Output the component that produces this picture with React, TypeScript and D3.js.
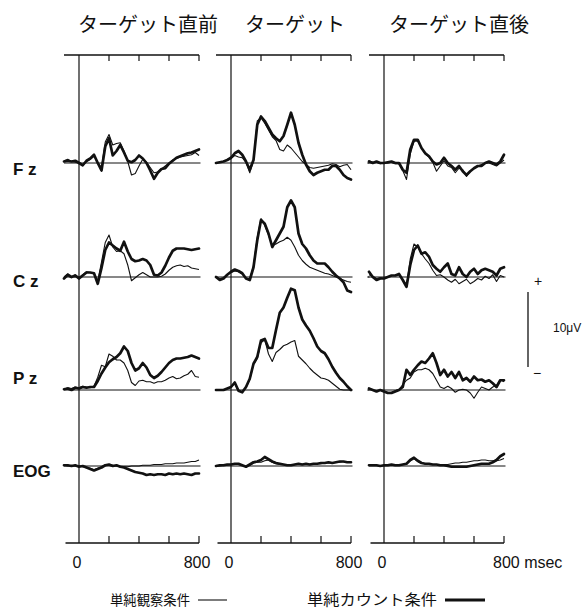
import React from 'react';
import * as d3 from 'd3';

// sampling grid, msec
const times = d3.range(-100, 825, 25);
const xTicks = [0, 200, 400, 600, 800];
const columnTitles = ['ターゲット直前', 'ターゲット', 'ターゲット直後'];
const channels = ['F z', 'C z', 'P z', 'EOG'];
const legendLabels = ['単純観察条件', '単純カウント条件'];

// values in μV, thin = 単純観察条件, thick = 単純カウント条件
// ターゲット直前
const fzPreThin = [0.3, 0.5, 0.2, 0.1, 0.1, -0.3, 0.2, 0.5, 0.9, 0.1, -0.6, 2.8, 3.8, 2.4, 2.6, 2.7, 1.6, 0.2, -1.6, -1.4, -0.4, 0.5, 0.1, -0.6, -1.3, -1.2, -0.8, -0.4, 0.0, 0.4, 0.6, 0.8, 0.9, 1.0, 1.1, 1.4, 1.0];
const fzPreThick = [0.2, 0.3, 0.2, 0.3, 0.0, -0.3, 0.3, 0.6, 1.1, 0.0, -1.0, 2.2, 3.3, 1.0, 1.6, 2.4, 1.4, 0.3, 0.1, 0.4, 1.0, 0.6, 0.0, -1.0, -2.1, -1.3, -0.8, -0.7, -0.1, 0.3, 0.7, 0.9, 1.1, 1.3, 1.4, 1.6, 1.8];
const czPreThin = [0.0, 0.4, -0.1, 0.3, -0.1, 0.3, 0.7, 0.6, 0.4, -0.5, 2.0, 4.6, 5.6, 4.0, 3.4, 3.5, 3.1, 1.6, -0.5, -0.1, 0.3, 0.6, 0.3, 0.0, 0.0, 0.0, 0.1, 0.4, 0.9, 1.3, 1.5, 1.6, 1.4, 1.5, 1.2, 1.1, 1.0];
const czPreThick = [-0.2, 0.3, 0.0, 0.2, -0.2, 0.2, 0.6, 0.6, 0.5, -0.9, 1.2, 3.6, 4.6, 4.2, 3.8, 3.5, 4.7, 3.4, 2.4, 2.1, 2.2, 2.4, 2.2, 1.6, 0.3, 0.2, 0.6, 1.5, 2.6, 3.5, 3.8, 3.8, 3.8, 3.7, 3.6, 3.7, 3.8];
const pzPreThin = [0.1, 0.3, 0.2, 0.4, 0.3, 0.5, 0.4, 0.3, 0.5, 1.7, 3.3, 3.1, 4.8, 4.5, 4.0, 4.0, 3.6, 2.6, 1.0, 0.6, 1.2, 1.3, 1.1, 1.1, 0.9, 1.1, 1.1, 1.3, 1.6, 1.8, 1.5, 1.6, 1.9, 2.1, 2.6, 1.8, 1.7];
const pzPreThick = [0.1, 0.2, 0.0, 0.3, 0.2, 0.4, 0.3, 0.4, 0.4, 1.2, 2.2, 3.0, 3.7, 4.1, 4.4, 4.9, 5.8, 5.2, 3.6, 2.6, 2.9, 3.6, 3.0, 2.0, 1.6, 1.9, 2.4, 3.0, 3.6, 4.0, 4.2, 4.2, 4.3, 4.4, 4.6, 4.4, 4.2];
const eogPreThin = [0.1, 0.0, 0.1, 0.0, 0.0, -0.1, -0.2, -0.3, -0.5, -0.3, -0.1, 0.1, 0.2, 0.1, 0.0, -0.1, -0.1, -0.1, 0.0, 0.0, 0.0, 0.1, 0.1, 0.1, 0.2, 0.2, 0.2, 0.3, 0.3, 0.3, 0.4, 0.4, 0.4, 0.5, 0.6, 0.6, 0.8];
const eogPreThick = [0.1, 0.1, 0.0, 0.1, -0.1, 0.0, -0.2, -0.4, -0.6, -0.4, -0.2, 0.1, 0.2, 0.0, 0.1, -0.1, -0.2, -0.4, -0.6, -0.8, -0.9, -1.0, -1.2, -1.1, -1.2, -1.1, -1.1, -1.2, -1.0, -1.1, -1.0, -1.1, -1.0, -1.1, -1.2, -1.0, -1.0];

// ターゲット
const fzTgtThin = [0.0, 0.1, 0.2, 0.4, 0.6, 1.0, 0.8, 0.7, 0.1, -1.3, 0.3, 5.6, 6.0, 5.3, 4.4, 3.5, 3.0, 1.8, 1.6, 2.4, 2.0, 1.4, 0.8, 0.2, -0.2, -0.6, -0.7, -0.6, -0.5, -0.4, -0.3, -0.1, -0.2, -0.5, -0.3, -0.2, -0.9];
const fzTgtThick = [0.0, 0.1, 0.2, 0.4, 0.7, 1.3, 1.6, 1.1, 0.2, -0.9, 0.4, 5.1, 6.2, 5.6, 4.7, 3.8, 3.3, 2.9, 3.6, 5.1, 6.7, 5.1, 2.7, 1.1, -0.2, -1.1, -1.6, -1.3, -1.1, -0.9, -0.9, -0.4, -0.4, -0.9, -1.6, -2.0, -2.2];
const czTgtThin = [0.0, -0.2, -0.1, 0.3, 0.6, 0.8, 0.7, 0.4, -0.2, -0.3, 1.5, 5.3, 7.8, 6.9, 5.6, 4.2, 4.4, 4.7, 4.9, 5.3, 4.9, 4.0, 2.9, 2.2, 1.7, 1.3, 1.1, 0.9, 0.7, 0.5, 0.4, 0.2, 0.0, -0.2, -0.4, -0.6, -0.7];
const czTgtThick = [0.0, -0.4, -0.2, 0.3, 0.7, 1.0, 0.8, 0.5, -0.2, -0.4, 1.3, 4.9, 7.6, 7.1, 5.8, 4.0, 4.9, 5.8, 6.7, 9.3, 10.2, 9.3, 5.8, 4.4, 3.8, 2.9, 2.2, 1.8, 1.8, 1.8, 1.3, 0.7, 0.2, -0.2, -0.7, -1.8, -2.0];
const pzTgtThin = [0.0, 0.0, 0.0, 0.2, 0.4, 0.9, -0.1, -0.3, 0.3, 1.4, 3.4, 4.2, 6.3, 6.7, 4.8, 3.8, 5.0, 5.4, 5.9, 6.1, 6.4, 6.6, 4.5, 4.0, 3.5, 2.9, 2.4, 2.0, 1.6, 1.5, 1.3, 0.9, 0.5, 0.1, 0.0, 0.0, 0.0];
const pzTgtThick = [0.0, 0.0, 0.0, 0.2, 0.4, 1.0, -0.1, -0.3, 0.4, 1.5, 3.5, 4.4, 6.6, 6.8, 5.6, 5.6, 8.0, 10.3, 11.0, 12.3, 13.5, 13.3, 11.0, 9.4, 8.6, 7.9, 6.9, 5.8, 5.2, 4.9, 4.1, 3.1, 2.3, 1.6, 1.1, 0.5, 0.0];
const eogTgtThin = [0.0, 0.0, 0.1, 0.1, 0.2, 0.2, 0.2, 0.1, -0.1, 0.1, 0.4, 0.5, 0.5, 0.7, 0.8, 0.5, 0.3, 0.2, 0.2, 0.1, 0.1, 0.2, 0.2, 0.2, 0.2, 0.2, 0.3, 0.3, 0.3, 0.4, 0.4, 0.4, 0.5, 0.5, 0.6, 0.5, 0.5];
const eogTgtThick = [0.0, 0.1, 0.1, 0.2, 0.2, 0.3, 0.3, 0.1, -0.1, 0.2, 0.5, 0.6, 0.8, 1.2, 0.9, 0.6, 0.4, 0.3, 0.2, 0.1, 0.1, 0.2, 0.3, 0.2, 0.3, 0.2, 0.3, 0.3, 0.4, 0.4, 0.5, 0.4, 0.5, 0.6, 0.6, 0.5, 0.5];

// ターゲット直後
const fzPostThin = [0.3, 0.1, 0.1, -0.1, 0.0, 0.0, 0.1, -0.1, -0.1, -1.0, -2.2, 1.2, 2.9, 2.9, 2.0, 1.2, 0.8, 0.1, -1.1, -0.4, 0.3, -0.4, -0.6, -1.3, -0.7, -0.9, -1.8, -1.1, -0.7, -0.4, -0.2, 0.0, 0.0, -0.2, -0.4, 0.0, 0.4];
const fzPostThick = [0.2, 0.0, 0.2, 0.0, 0.0, 0.1, 0.2, 0.0, 0.0, -0.9, -1.3, 1.8, 3.1, 3.1, 2.0, 1.3, 0.9, 0.2, -0.2, 0.0, 0.7, 0.0, -0.4, -0.9, -0.4, -1.1, -1.6, -1.1, -0.7, -0.4, -0.4, 0.0, 0.2, 0.0, -0.2, 0.2, 1.1];
const czPostThin = [0.3, 0.1, -0.2, -0.1, -0.2, 0.0, 0.2, 0.2, 0.3, -0.3, -1.2, 2.4, 4.4, 4.0, 3.1, 2.4, 1.8, 0.9, 0.2, 0.3, 0.0, -0.4, -0.7, -0.3, -0.9, -0.6, -0.3, -0.9, -0.6, -0.2, -0.4, 0.1, -0.2, 0.3, -0.6, 0.2, 0.0];
const czPostThick = [0.7, 0.0, -0.4, -0.2, -0.2, 0.0, 0.2, 0.2, 0.4, -0.4, -1.3, 1.6, 3.6, 4.2, 3.1, 3.3, 2.7, 1.6, 1.1, 0.7, 1.3, 1.8, 0.4, 0.2, 1.3, 0.4, 0.0, 0.7, 1.1, 0.4, 0.9, 1.1, 0.9, 0.7, 0.2, 1.1, 1.3];
const pzPostThin = [0.2, 0.0, -0.2, 0.0, -0.2, -0.3, -0.3, -0.1, 0.1, 0.7, 1.3, 1.6, 2.4, 2.7, 2.7, 2.9, 2.7, 2.2, 1.3, 0.4, 0.2, 0.5, 0.2, -0.3, 0.0, 0.1, 0.0, -0.4, -1.1, -0.3, 0.4, 0.2, 0.0, 0.4, 0.6, 1.4, 1.1];
const pzPostThick = [0.2, 0.0, -0.2, 0.0, -0.2, -0.4, -0.4, -0.2, 0.0, 0.4, 2.7, 2.0, 2.7, 3.3, 3.8, 3.6, 4.2, 4.9, 3.6, 2.0, 2.7, 1.8, 2.4, 1.6, 2.4, 1.3, 1.6, 1.1, 1.8, 1.3, 1.4, 1.1, 1.3, 0.9, 0.4, 1.3, 1.3];
const eogPostThin = [0.1, 0.1, 0.1, 0.0, 0.1, 0.1, 0.2, 0.1, 0.1, 0.2, 0.3, 0.7, 1.0, 0.6, 0.4, 0.3, 0.3, 0.2, 0.2, 0.2, 0.2, 0.2, 0.3, 0.4, 0.4, 0.5, 0.5, 0.6, 0.7, 0.7, 0.8, 0.8, 0.7, 0.7, 0.7, 0.8, 1.0];
const eogPostThick = [0.1, 0.1, 0.1, 0.0, 0.1, 0.1, 0.2, 0.1, 0.1, 0.2, 0.3, 0.8, 1.1, 0.7, 0.4, 0.3, 0.3, 0.2, 0.2, 0.1, 0.1, 0.0, -0.1, -0.1, -0.1, -0.1, -0.1, 0.0, 0.1, 0.2, 0.3, 0.3, 0.3, 0.5, 0.8, 1.3, 1.6];

const panels = [
  [[fzPreThin, fzPreThick], [czPreThin, czPreThick], [pzPreThin, pzPreThick], [eogPreThin, eogPreThick]],
  [[fzTgtThin, fzTgtThick], [czTgtThin, czTgtThick], [pzTgtThin, pzTgtThick], [eogTgtThin, eogTgtThick]],
  [[fzPostThin, fzPostThick], [czPostThin, czPostThick], [pzPostThin, pzPostThick], [eogPostThin, eogPostThick]],
];

const colZero = [79, 231, 384];
const rowBase = [163, 277, 390, 466];
const labelY = [175, 287, 384, 477];
const titleX = [148, 295, 459];
const axisTop = 55;
const axisBottom = 543;
const jp = "'Noto Sans CJK JP', 'Noto Sans', sans-serif";
const sans = "'Liberation Sans', Arial, sans-serif";

export default function App() {
  return (
    <svg width={585} height={611} style={{ position: 'absolute', left: 0, top: 0, background: '#fff' }}>
      <rect width={585} height={611} fill="#fff" />
      {columnTitles.map((t, i) => (
        <text key={t} x={titleX[i]} y={32} textAnchor="middle" fontSize={20} fontFamily={jp} fill="#111">{t}</text>
      ))}
      {channels.map((c, i) => (
        <text key={c} x={13} y={labelY[i]} fontSize={17} fontWeight="bold" fontFamily={sans} fill="#111">{c}</text>
      ))}
      {panels.map((rows, ci) => {
        const x = d3.scaleLinear().domain([0, 800]).range([colZero[ci], colZero[ci] + 120]);
        return (
          <g key={ci} stroke="#111" fill="none">
            <line x1={x(-100)} x2={x(800)} y1={axisTop} y2={axisTop} strokeWidth={1.3} />
            <line x1={x(-90)} x2={x(800)} y1={axisBottom} y2={axisBottom} strokeWidth={1.3} />
            <line x1={x(0)} x2={x(0)} y1={axisTop} y2={axisBottom} strokeWidth={1.2} />
            {xTicks.filter(t => t > 0).map(t => (
              <g key={t}>
                <line x1={x(t)} x2={x(t)} y1={axisTop} y2={axisTop + 6} strokeWidth={1.2} />
                <line x1={x(t)} x2={x(t)} y1={axisBottom} y2={axisBottom - 7} strokeWidth={1.2} />
              </g>
            ))}
            {rows.map(([thin, thick], ri) => {
              const y = d3.scaleLinear().domain([0, 10]).range([rowBase[ri], rowBase[ri] - 75]);
              const line = d3.line<number>().x((_, i) => x(times[i])).y(v => y(v));
              return (
                <g key={ri}>
                  <line x1={x(-100)} x2={x(810)} y1={y(0)} y2={y(0)} strokeWidth={1} />
                  {ci < 2 && ri < 3 && (
                    <line x1={x(910)} x2={x(922)} y1={y(0)} y2={y(0)} strokeWidth={1.5} />
                  )}
                  <path d={line(thin) || ''} strokeWidth={1.1} strokeLinejoin="round" />
                  <path d={line(thick) || ''} strokeWidth={2.7} strokeLinejoin="round" strokeLinecap="round" />
                </g>
              );
            })}
          </g>
        );
      })}
      {/* time labels */}
      {colZero.map((z, i) => {
        const x = d3.scaleLinear().domain([0, 800]).range([z, z + 120]);
        return (
          <g key={i} fontFamily={sans} fontSize={16} fill="#111">
            <text x={x(0) - 2} y={568} textAnchor="middle">0</text>
            {i < 2 ? (
              <text x={x(800) - 2} y={568} textAnchor="middle">800</text>
            ) : (
              <text x={x(800) - 11} y={568}>800 msec</text>
            )}
          </g>
        );
      })}
      {/* scale bar */}
      <line x1={528} x2={528} y1={292} y2={367} stroke="#111" strokeWidth={1.3} />
      <text x={538} y={286} textAnchor="middle" fontSize={14} fontFamily={sans} fill="#111">+</text>
      <text x={537} y={378} textAnchor="middle" fontSize={14} fontFamily={sans} fill="#111">−</text>
      <text x={553} y={332} fontSize={12} fontFamily={sans} fill="#111">10μV</text>
      {/* legend */}
      <text x={110} y={605} fontSize={14} fontFamily={jp} fill="#111" textLength={80} lengthAdjust="spacingAndGlyphs">{legendLabels[0]}</text>
      <line x1={198} x2={227} y1={600} y2={600} stroke="#111" strokeWidth={1.1} />
      <text x={307} y={605} fontSize={15} fontFamily={jp} fill="#111" textLength={130} lengthAdjust="spacingAndGlyphs">{legendLabels[1]}</text>
      <line x1={445} x2={485} y1={600} y2={600} stroke="#111" strokeWidth={3} />
    </svg>
  );
}
